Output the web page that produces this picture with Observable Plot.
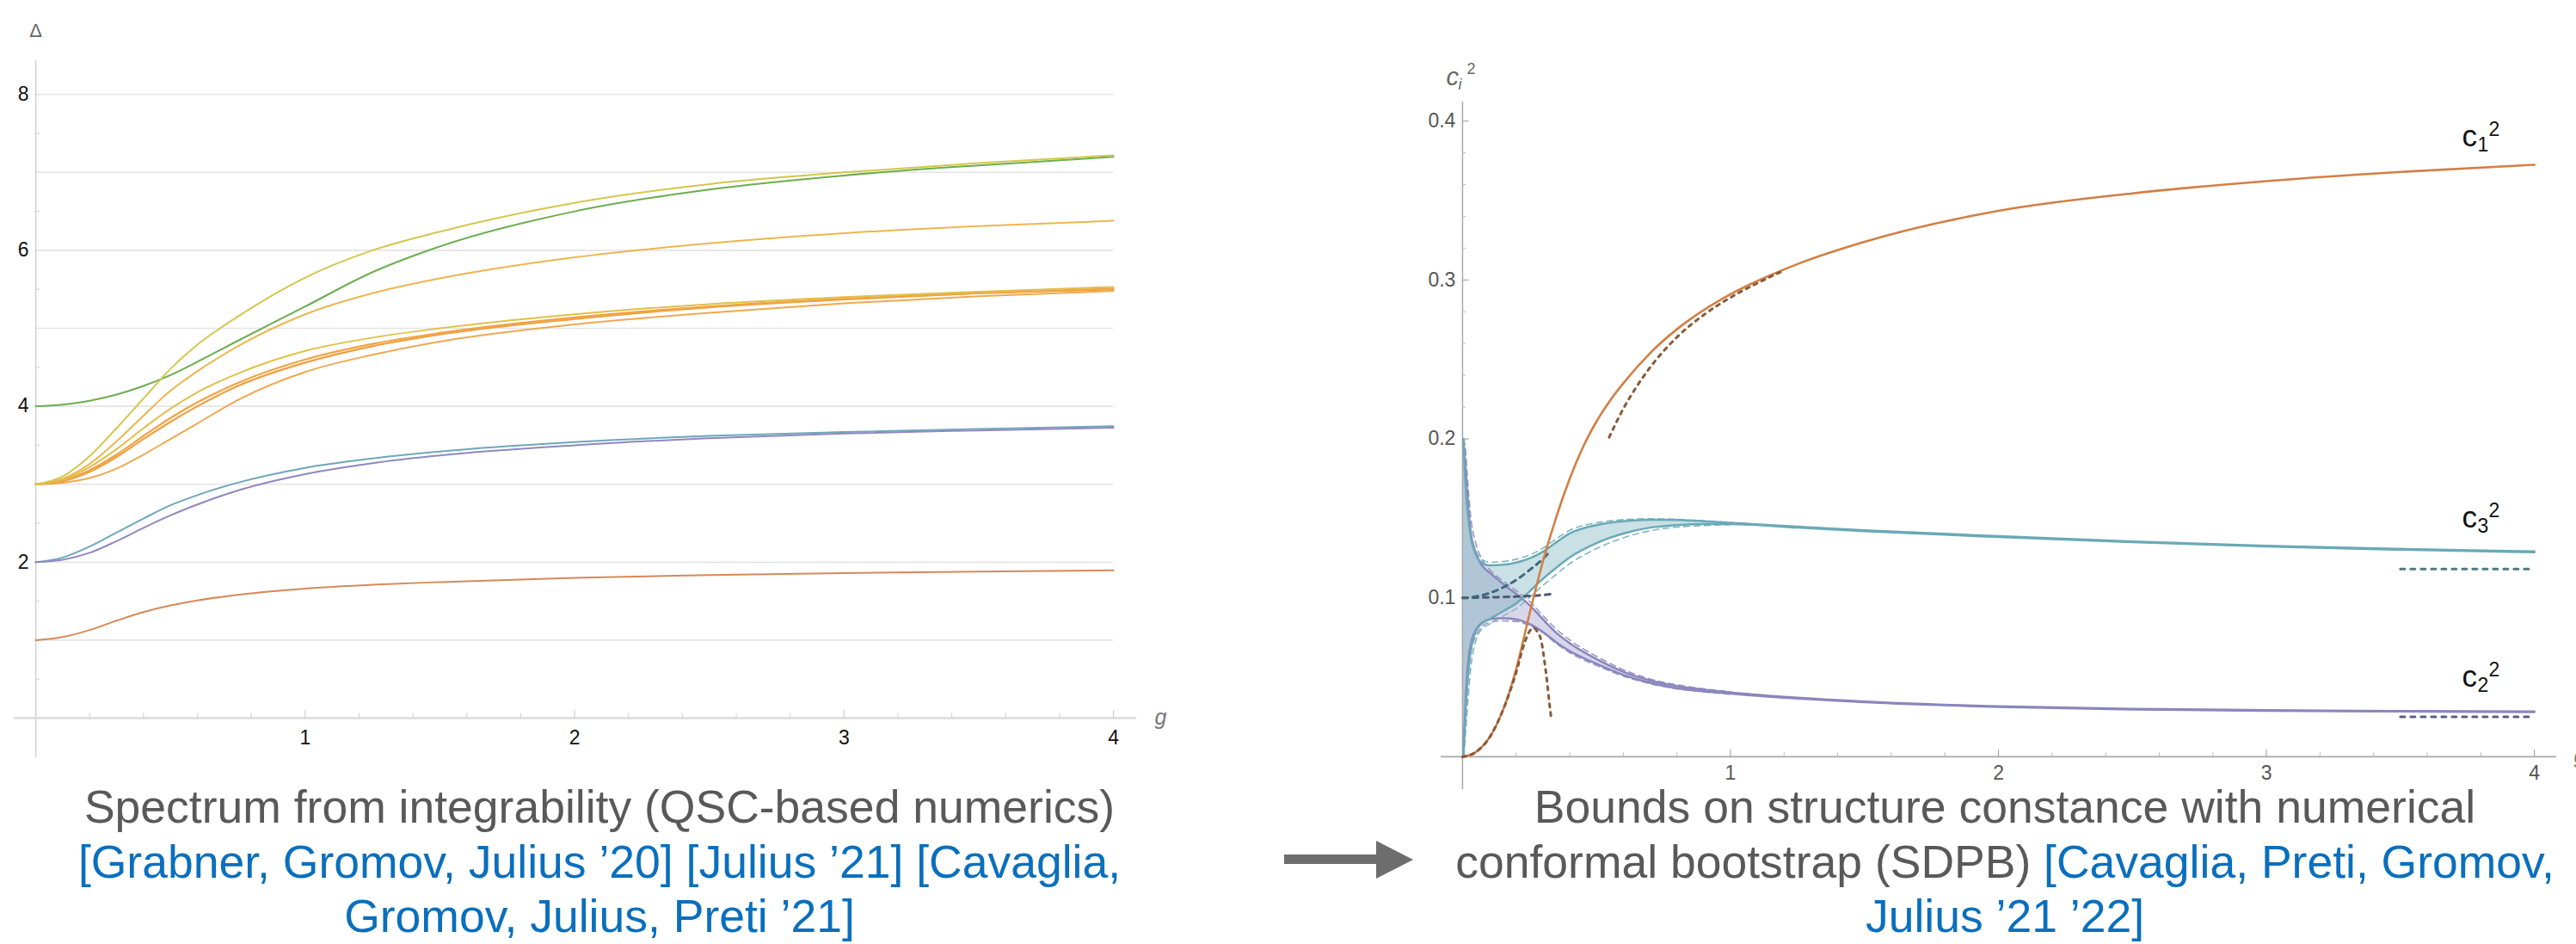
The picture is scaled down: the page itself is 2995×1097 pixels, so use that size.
<!DOCTYPE html>
<html><head><meta charset="utf-8">
<script src="https://cdn.jsdelivr.net/npm/d3@7"></script>
<script src="https://cdn.jsdelivr.net/npm/@observablehq/plot@0.6"></script>
<style>
body{margin:0;background:#fff;width:2995px;height:1097px;position:relative;overflow:hidden;font-family:"Liberation Sans",Arial,sans-serif;}
#left{position:absolute;left:0;top:0;}
#right{position:absolute;left:1550px;top:0;}
.cap{position:absolute;white-space:nowrap;text-align:center;font-size:53.5px;line-height:63.5px;color:#595959;}
.blue{color:#0a6fbd;}
#arrow{position:absolute;left:0;top:0;}
</style></head><body>
<div id="left"></div><div id="right"></div>
<div class="cap" style="left:-3px;width:1400px;top:906px">Spectrum from integrability (QSC-based numerics)<br><span class="blue">[Grabner, Gromov, Julius ’20] [Julius ’21] [Cavaglia,<br>Gromov, Julius, Preti ’21]</span></div>
<div class="cap" style="left:1631px;width:1400px;top:906px">Bounds on structure constance with numerical<br>conformal bootstrap (SDPB) <span class="blue">[Cavaglia, Preti, Gromov,<br>Julius ’21 ’22]</span></div>
<svg id="arrow" width="1700" height="1097"><polygon points="1493,993 1600,993 1600,977 1643,999 1600,1021 1600,1004 1493,1004" fill="#6d6d6d"/></svg>
<script>
// ---------- LEFT CHART DATA: Δ(g) ----------
const gL = [0, 0.1, 0.2, 0.3, 0.4, 0.5, 0.6, 0.75, 1, 1.25, 1.5, 2, 2.5, 3, 3.5, 4];
const deltaA = [1, 1.04, 1.13, 1.25, 1.36, 1.445, 1.51, 1.58, 1.66, 1.71, 1.745, 1.80, 1.835, 1.86, 1.88, 1.895];
const deltaB = [2, 2.06, 2.2, 2.38, 2.56, 2.73, 2.86, 3.02, 3.21, 3.33, 3.42, 3.54, 3.62, 3.67, 3.71, 3.745];
const deltaC = [2, 2.03, 2.12, 2.27, 2.44, 2.6, 2.74, 2.92, 3.13, 3.27, 3.37, 3.5, 3.59, 3.65, 3.69, 3.725];
const deltaD = [4, 4.02, 4.07, 4.15, 4.26, 4.4, 4.57, 4.84, 5.28, 5.72, 6.05, 6.5, 6.78, 6.96, 7.09, 7.2];
const deltaE = [3, 3.1, 3.36, 3.72, 4.1, 4.48, 4.79, 5.15, 5.65, 6.0, 6.24, 6.61, 6.85, 7.0, 7.12, 7.22];
const deltaF = [3, 3.07, 3.26, 3.55, 3.88, 4.2, 4.45, 4.77, 5.18, 5.45, 5.64, 5.91, 6.09, 6.22, 6.31, 6.38];
const deltaG = [3, 3.06, 3.22, 3.45, 3.72, 3.97, 4.18, 4.42, 4.71, 4.88, 5.0, 5.18, 5.31, 5.4, 5.47, 5.53];
const deltaH1 = [3, 3.05, 3.18, 3.38, 3.62, 3.85, 4.05, 4.3, 4.6, 4.8, 4.94, 5.14, 5.28, 5.38, 5.45, 5.51];
const deltaH2 = [3, 3.04, 3.16, 3.35, 3.58, 3.8, 4.0, 4.26, 4.56, 4.77, 4.92, 5.12, 5.27, 5.37, 5.45, 5.5];
const deltaI = [3, 3.02, 3.08, 3.2, 3.38, 3.58, 3.78, 4.08, 4.44, 4.66, 4.83, 5.05, 5.2, 5.32, 5.41, 5.48];
const yGridL = [1, 2, 3, 4, 5, 6, 7, 8];
const yLabelsL = [2, 4, 6, 8];
const yMinorL = [0.5, 1.5, 2.5, 3.5, 4.5, 5.5, 6.5, 7.5];
const xLabelsL = [1, 2, 3, 4];
const xMinorL = [0.2, 0.4, 0.6, 0.8, 1.2, 1.4, 1.6, 1.8, 2.2, 2.4, 2.6, 2.8, 3.2, 3.4, 3.6, 3.8];

// ---------- RIGHT CHART DATA: c_i^2(g) ----------
const gR = [0.003, 0.01, 0.02, 0.03, 0.05, 0.07, 0.1, 0.15, 0.2, 0.25, 0.3, 0.35, 0.4, 0.5, 0.6, 0.7, 0.8, 0.9, 1.0, 1.25, 1.5, 2, 2.5, 3, 3.5, 4];
const c3Up = [0.2, 0.175, 0.152, 0.139, 0.127, 0.1225, 0.1205, 0.1208, 0.1222, 0.1248, 0.129, 0.135, 0.1405, 0.1458, 0.1482, 0.1492, 0.149, 0.1482, 0.1472, 0.1448, 0.1425, 0.1388, 0.1355, 0.1328, 0.1308, 0.1292];
const c3Lo = [0.0, 0.025, 0.05, 0.066, 0.079, 0.0835, 0.0865, 0.0915, 0.0965, 0.104, 0.112, 0.119, 0.1255, 0.1345, 0.1405, 0.1442, 0.1458, 0.1464, 0.1464, 0.1442, 0.142, 0.1383, 0.135, 0.1323, 0.1303, 0.1287];
const c2Up = [0.2, 0.185, 0.16, 0.142, 0.128, 0.121, 0.116, 0.109, 0.1025, 0.0955, 0.0865, 0.078, 0.0715, 0.0615, 0.0535, 0.048, 0.0445, 0.0422, 0.0405, 0.0372, 0.0348, 0.0318, 0.0302, 0.0293, 0.0288, 0.0285];
const c2Lo = [0.0, 0.03, 0.058, 0.07, 0.08, 0.084, 0.0865, 0.0872, 0.0865, 0.0835, 0.0785, 0.072, 0.0665, 0.0585, 0.0515, 0.0465, 0.0432, 0.0412, 0.0397, 0.0366, 0.0343, 0.0314, 0.0298, 0.029, 0.0285, 0.0281];
// previous (dashed) bounds
const gRd = [0.003, 0.01, 0.02, 0.03, 0.05, 0.07, 0.1, 0.15, 0.2, 0.25, 0.3, 0.35, 0.4, 0.5, 0.6, 0.7, 0.8, 0.9, 1.0];
const c3UpD = [0.2, 0.18, 0.156, 0.142, 0.1295, 0.1245, 0.1225, 0.1228, 0.1243, 0.127, 0.1312, 0.1372, 0.1425, 0.1472, 0.1492, 0.1498, 0.1494, 0.1485, 0.1474];
const c3LoD = [0.0, 0.012, 0.035, 0.055, 0.073, 0.08, 0.0835, 0.0885, 0.0932, 0.1002, 0.1078, 0.1148, 0.1215, 0.131, 0.1378, 0.1422, 0.1445, 0.1455, 0.146];
const c2UpD = [0.2, 0.195, 0.172, 0.152, 0.134, 0.125, 0.118, 0.1108, 0.1045, 0.0978, 0.0888, 0.0803, 0.0735, 0.0632, 0.0548, 0.049, 0.0453, 0.0428, 0.041];
const c2LoD = [0.0, 0.018, 0.048, 0.064, 0.076, 0.0815, 0.0845, 0.0855, 0.0852, 0.0825, 0.078, 0.0712, 0.0655, 0.0575, 0.0508, 0.046, 0.0428, 0.0408, 0.0393];
// c1^2 numerics
const gC1 = [0, 0.05, 0.1, 0.15, 0.2, 0.25, 0.3, 0.35, 0.4, 0.45, 0.5, 0.55, 0.6, 0.7, 0.8, 0.9, 1, 1.25, 1.5, 2, 2.5, 3, 3.5, 4];
const c1 = [0, 0.003, 0.012, 0.029, 0.055, 0.09, 0.123, 0.151, 0.175, 0.195, 0.211, 0.224, 0.235, 0.254, 0.269, 0.281, 0.291, 0.31, 0.324, 0.3435, 0.3545, 0.3622, 0.368, 0.3725];
// weak / strong coupling expansions
const gC1weak = [0, 0.05, 0.1, 0.15, 0.2, 0.23, 0.25, 0.265, 0.28, 0.295, 0.305, 0.316, 0.324, 0.332];
const c1weak = [0, 0.003, 0.012, 0.029, 0.053, 0.071, 0.079, 0.081, 0.0785, 0.072, 0.061, 0.0466, 0.0339, 0.0231];
const gC1strong = [0.547, 0.6, 0.65, 0.7, 0.8, 0.9, 1.0, 1.1, 1.2];
const c1strong = [0.201, 0.219, 0.233, 0.245, 0.264, 0.278, 0.289, 0.298, 0.306];
const gC3weak = [0, 0.05, 0.1, 0.15, 0.2, 0.25, 0.3, 0.33];
const c3weak = [0.1, 0.1008, 0.103, 0.1065, 0.1112, 0.1175, 0.1245, 0.13];
const gC2weak = [0, 0.1, 0.2, 0.3, 0.335];
const c2weak = [0.1, 0.1003, 0.1008, 0.1018, 0.1025];
const gStrong = [3.5, 4];
const c3strong = [0.1182, 0.1182];
const c2strong = [0.0251, 0.0251];
const yLabelsR = [0.1, 0.2, 0.3, 0.4];
const yMinorR = [0.02, 0.04, 0.06, 0.08, 0.12, 0.14, 0.16, 0.18, 0.22, 0.24, 0.26, 0.28, 0.32, 0.34, 0.36, 0.38];
const xLabelsR = [1, 2, 3, 4];
const xMinorR = [0.2, 0.4, 0.6, 0.8, 1.2, 1.4, 1.6, 1.8, 2.2, 2.4, 2.6, 2.8, 3.2, 3.4, 3.6, 3.8];
const curveNames = ["1", "3", "2"];
const labelG = [3.73, 3.73, 3.73];
const labelV = [0.384, 0.1442, 0.044];

// ---------- helpers ----------
const rows = (gs, vs) => gs.map((g, i) => ({g, v: vs[i]}));
const font = "Liberation Sans, Arial, sans-serif";

// ---------- LEFT PLOT ----------
const leftCurves = [
  [deltaA, "#d6895a", 2], [deltaB, "#6fa7b9", 2], [deltaC, "#8d89c0", 2],
  [deltaI, "#efa84f", 2], [deltaH2, "#f19f3e", 2.2], [deltaH1, "#f0a445", 2.2],
  [deltaG, "#dfc04a", 2], [deltaF, "#ecb650", 2], [deltaD, "#6bae4f", 2], [deltaE, "#d5c64c", 2]
];
const left = Plot.plot({
  width: 1400, height: 900,
  marginLeft: 16, marginRight: 79, marginTop: 70, marginBottom: 20,
  style: {fontFamily: font, background: "transparent"},
  x: {domain: [-0.08, 4.086], axis: null},
  y: {domain: [-0.508, 8.433], axis: null},
  marks: [
    Plot.ruleY(yGridL, {y: d => d, x1: 0, x2: 4, stroke: "#e4e4e4", strokeWidth: 1.6}),
    Plot.ruleX([0], {y1: -0.508, y2: 8.433, stroke: "#cfcfcf", strokeWidth: 1.5}),
    Plot.ruleY([0], {x1: -0.08, x2: 4.086, stroke: "#dadada", strokeWidth: 2.5}),
    Plot.ruleY(yMinorL, {y: d => d, x1: 0, x2: 0.016, stroke: "#d4d4d4", strokeWidth: 1.2}),
    Plot.ruleX(xLabelsL, {x: d => d, y1: 0, y2: 0.1, stroke: "#d0d0d0", strokeWidth: 1.2}),
    Plot.ruleX(xMinorL, {x: d => d, y1: 0, y2: 0.06, stroke: "#d4d4d4", strokeWidth: 1.2}),
    ...leftCurves.map(([vals, color, w]) =>
      Plot.line(rows(gL, vals), {x: "g", y: "v", stroke: color, strokeWidth: w, curve: "monotone-x"})),
    Plot.text(yLabelsL, {x: 0, y: d => d, text: d => String(d), textAnchor: "end", dx: -8, fontSize: 23, fill: "#111", lineAnchor: "middle"}),
    Plot.text(xLabelsL, {x: d => d, y: 0, text: d => String(d), dy: 23, fontSize: 23, fill: "#111", lineAnchor: "middle"}),
    Plot.text(["Δ"], {x: 0, y: 8.433, text: d => d, dy: -35, fontSize: 22, fill: "#666", lineAnchor: "middle"}),
    Plot.text(["g"], {x: 4.086, y: 0, text: d => d, dx: 21, fontSize: 25, fill: "#777", fontStyle: "italic", textAnchor: "start", lineAnchor: "middle"})
  ]
});
document.getElementById("left").appendChild(left);

// ---------- RIGHT PLOT ----------
const teal = "#6aa9b6", purple = "#8a86bd", orange = "#d27f45";
const right = Plot.plot({
  width: 1445, height: 930,
  marginLeft: 125, marginRight: 23, marginTop: 118, marginBottom: 13,
  style: {fontFamily: font, background: "transparent", overflow: "hidden"},
  x: {domain: [-0.08, 4.083], axis: null},
  y: {domain: [-0.0206, 0.412], axis: null},
  marks: [
    Plot.areaY(gR.map((g, i) => ({g, lo: c2Lo[i], hi: c2Up[i]})), {x: "g", y1: "lo", y2: "hi", fill: purple, fillOpacity: 0.33, curve: "monotone-x"}),
    Plot.areaY(gR.map((g, i) => ({g, lo: c3Lo[i], hi: c3Up[i]})), {x: "g", y1: "lo", y2: "hi", fill: teal, fillOpacity: 0.36, curve: "monotone-x"}),
    Plot.ruleX([0], {y1: -0.0206, y2: 0.412, stroke: "#a8a8a8", strokeWidth: 1.5}),
    Plot.ruleY([0], {x1: -0.08, x2: 4.083, stroke: "#a8a8a8", strokeWidth: 1.8}),
    Plot.ruleY(yLabelsR, {y: d => d, x1: 0, x2: 0.025, stroke: "#a8a8a8", strokeWidth: 1.2}),
    Plot.ruleY(yMinorR, {y: d => d, x1: 0, x2: 0.013, stroke: "#b8b8b8", strokeWidth: 1}),
    Plot.ruleX(xLabelsR, {x: d => d, y1: 0, y2: 0.0045, stroke: "#a8a8a8", strokeWidth: 1.2}),
    Plot.ruleX(xMinorR, {x: d => d, y1: 0, y2: 0.0025, stroke: "#b8b8b8", strokeWidth: 1}),
    // dashed previous bounds
    Plot.line(rows(gRd, c3UpD), {x: "g", y: "v", stroke: "#7fb8c2", strokeWidth: 1.6, strokeDasharray: "7,5", curve: "monotone-x"}),
    Plot.line(rows(gRd, c3LoD), {x: "g", y: "v", stroke: "#7fb8c2", strokeWidth: 1.6, strokeDasharray: "7,5", curve: "monotone-x"}),
    Plot.line(rows(gRd, c2UpD), {x: "g", y: "v", stroke: "#9a96c8", strokeWidth: 1.6, strokeDasharray: "7,5", curve: "monotone-x"}),
    Plot.line(rows(gRd, c2LoD), {x: "g", y: "v", stroke: "#9a96c8", strokeWidth: 1.6, strokeDasharray: "7,5", curve: "monotone-x"}),
    // solid bounds
    Plot.line(rows(gR, c2Lo), {x: "g", y: "v", stroke: purple, strokeWidth: 2.5, curve: "monotone-x"}),
    Plot.line(rows(gR, c2Up), {x: "g", y: "v", stroke: purple, strokeWidth: 2.5, curve: "monotone-x"}),
    Plot.line(rows(gR, c3Lo), {x: "g", y: "v", stroke: teal, strokeWidth: 2.5, curve: "monotone-x"}),
    Plot.line(rows(gR, c3Up), {x: "g", y: "v", stroke: teal, strokeWidth: 2.5, curve: "monotone-x"}),
    // expansions
    Plot.line(rows(gC2weak, c2weak), {x: "g", y: "v", stroke: "#4f5878", strokeWidth: 3, strokeDasharray: "6,6", curve: "monotone-x"}),
    Plot.line(rows(gC3weak, c3weak), {x: "g", y: "v", stroke: "#3f6a7a", strokeWidth: 3, strokeDasharray: "6,6", curve: "monotone-x"}),
    Plot.line(rows(gStrong, c3strong), {x: "g", y: "v", stroke: "#4e7985", strokeWidth: 3, strokeDasharray: "5,7"}),
    Plot.line(rows(gStrong, c2strong), {x: "g", y: "v", stroke: "#5d5c86", strokeWidth: 3, strokeDasharray: "5,7"}),
    Plot.line(rows(gC1, c1), {x: "g", y: "v", stroke: orange, strokeWidth: 2.6, curve: "monotone-x"}),
    Plot.line(rows(gC1weak, c1weak), {x: "g", y: "v", stroke: "#8a5a3a", strokeWidth: 3, strokeDasharray: "4,6", curve: "monotone-x"}),
    Plot.line(rows(gC1strong, c1strong), {x: "g", y: "v", stroke: "#8a5a3a", strokeWidth: 3, strokeDasharray: "4,6", curve: "monotone-x"}),
    // tick labels
    Plot.text(yLabelsR, {x: 0, y: d => d, text: d => d.toFixed(1), textAnchor: "end", dx: -8, fontSize: 23, fill: "#555", lineAnchor: "middle"}),
    Plot.text(xLabelsR, {x: d => d, y: 0, text: d => String(d), dy: 19, fontSize: 23, fill: "#555", lineAnchor: "middle"}),
    // axis labels
    Plot.text(["c"], {x: 0, y: 0.412, text: d => d, dx: -19, dy: -20, fontSize: 29, fill: "#666", fontStyle: "italic", textAnchor: "start", lineAnchor: "bottom"}),
    Plot.text(["i"], {x: 0, y: 0.412, text: d => d, dx: -5, dy: -15, fontSize: 18, fill: "#666", fontStyle: "italic", textAnchor: "start", lineAnchor: "bottom"}),
    Plot.text(["2"], {x: 0, y: 0.412, text: d => d, dx: 5, dy: -33, fontSize: 18, fill: "#666", textAnchor: "start", lineAnchor: "bottom"}),
    Plot.text(["g"], {x: 4.083, y: 0, text: d => d, dx: 20, fontSize: 25, fill: "#777", fontStyle: "italic", textAnchor: "start", lineAnchor: "middle"}),
    // curve labels c_i^2
    Plot.text(curveNames, {x: (d, i) => labelG[i], y: (d, i) => labelV[i], text: () => "c", fontSize: 35, fill: "#111", textAnchor: "start", lineAnchor: "bottom"}),
    Plot.text(curveNames, {x: (d, i) => labelG[i], y: (d, i) => labelV[i], text: d => d, dx: 18, dy: 6, fontSize: 23, fill: "#111", textAnchor: "start", lineAnchor: "bottom"}),
    Plot.text(curveNames, {x: (d, i) => labelG[i], y: (d, i) => labelV[i], text: () => "2", dx: 31, dy: -12, fontSize: 23, fill: "#111", textAnchor: "start", lineAnchor: "bottom"})
  ]
});
document.getElementById("right").appendChild(right);
</script>
</body></html>
